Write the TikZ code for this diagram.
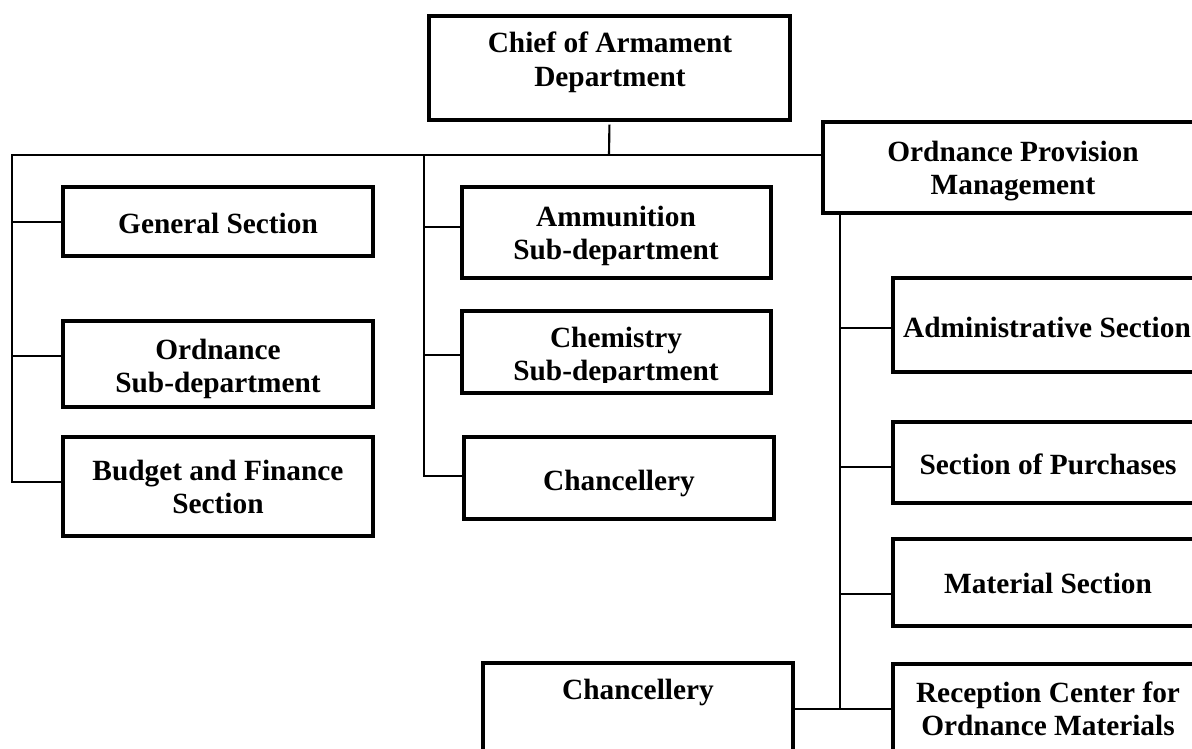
\documentclass[tikz,border=0pt]{standalone}
\usepackage{fontspec}
\setmainfont{Liberation Serif}
\newcommand\twol[2]{\begin{tabular}[t]{@{}c@{}}#1\\#2\end{tabular}}
\begin{document}
\begin{tikzpicture}[x=0.75pt,y=-0.75pt,
  box/.style n args={2}{draw, line width=2.4pt, rectangle, anchor=north west,
    inner sep=0pt, outer sep=0pt, minimum width=#1*0.75pt, minimum height=#2*0.75pt},
  lbl/.style={anchor=base, inner sep=0pt, font=\bfseries\fontsize{22pt}{25pt}\selectfont},
  link/.style={line width=1.6pt}]
\useasboundingbox (0,0) rectangle (1192,749);
\clip (0,0) rectangle (1192,749);

% boxes
\node[box={361}{104}] (chief) at (429,16) {};
\node[box={380}{91}]  (opm) at (823,122) {};
\node[box={310}{69}]  (general) at (63,187) {};
\node[box={310}{86}]  (ordsub) at (63,321) {};
\node[box={310}{99}]  (budget) at (63,437) {};
\node[box={309}{91}]  (ammo) at (462,187) {};
\node[box={309}{82}]  (chem) at (462,311) {};
\node[box={310}{82}]  (chanc1) at (464,437) {};
\node[box={310}{94}]  (admin) at (893,278) {};
\node[box={310}{81}]  (purch) at (893,422) {};
\node[box={310}{87}]  (material) at (893,539) {};
\node[box={310}{100}] (recep) at (893,664) {};
\node[box={310}{100}] (chanc2) at (483,663) {};

% texts
\node[lbl] (t-chief) at (610,53) {\twol{Chief of Armament}{Department}};
\node[lbl] (t-opm) at (1013,161) {\twol{Ordnance Provision}{Management}};
\node[lbl] (t-general) at (218,233) {General Section};
\node[lbl] (t-ordsub) at (218,359) {\twol{Ordnance}{Sub-department}};
\node[lbl] (t-budget) at (218,480) {\twol{Budget and Finance}{Section}};
\node[lbl] (t-ammo) at (616,226) {\twol{Ammunition}{Sub-department}};
\begin{scope}
\clip (440,300) rectangle (790,382.5);
\node[lbl] (t-chem) at (616,347) {\twol{Chemistry}{Sub-department}};
\end{scope}
\node[lbl] (t-chanc1) at (619,490) {Chancellery};
\node[lbl] (t-admin) at (1047,337) {Administrative Section};
\node[lbl] (t-purch) at (1048,474) {Section of Purchases};
\node[lbl] (t-material) at (1048,593) {Material Section};
\node[lbl] (t-recep) at (1048,702) {\twol{Reception Center for}{Ordnance Materials}};
\node[lbl] (t-chanc2) at (638,699) {Chancellery};

% junction coordinates
\coordinate (bus-top) at (609,155);
\coordinate (bus-l) at (12,155);
\coordinate (l1) at (12,222);
\coordinate (l2) at (12,356);
\coordinate (l3) at (12,482);
\coordinate (m0) at (424,155);
\coordinate (m1) at (424,227);
\coordinate (m2) at (424,355);
\coordinate (m3) at (424,476);
\coordinate (r1) at (840,328);
\coordinate (r2) at (840,467);
\coordinate (r3) at (840,594);
\coordinate (r4) at (840,709);

% connectors
\draw[link, shorten <=3.5pt] (chief.south) -- (bus-top);
\draw[link] (bus-l -| opm.west) -- (bus-l) -- (l3) -- (l3 -| budget.west);
\draw[link] (l1) -- (l1 -| general.west);
\draw[link] (l2) -- (l2 -| ordsub.west);
\draw[link] (m0) -- (m3) -- (m3 -| chanc1.west);
\draw[link] (m1) -- (m1 -| ammo.west);
\draw[link] (m2) -- (m2 -| chem.west);
\draw[link] (r1 |- opm.south) -- (r4);
\draw[link] (r1) -- (r1 -| admin.west);
\draw[link] (r2) -- (r2 -| purch.west);
\draw[link] (r3) -- (r3 -| material.west);
\draw[link] (r4 -| chanc2.east) -- (r4 -| recep.west);
\end{tikzpicture}
\end{document}
